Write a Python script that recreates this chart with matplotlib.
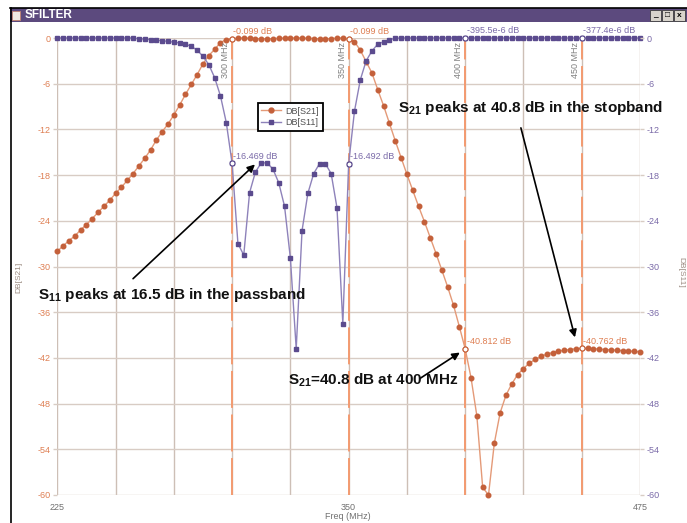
import numpy as np
import matplotlib
matplotlib.use("Agg")
import matplotlib.pyplot as plt
from matplotlib.patches import Rectangle
from matplotlib.lines import Line2D

plt.rcParams['font.family'] = ['Liberation Sans', 'DejaVu Sans']
plt.rcParams['mathtext.fontset'] = 'custom'
plt.rcParams['mathtext.rm'] = 'Liberation Sans:bold'
plt.rcParams['mathtext.bf'] = 'Liberation Sans:bold'

# frequency grid, 2.5 MHz steps
freq = np.linspace(225, 475, 101)

s21 = [-28.0, -27.3, -26.6, -26.0, -25.2, -24.5, -23.7, -22.9, -22.1, -21.3,
       -20.4, -19.6, -18.7, -17.8, -16.8, -15.8, -14.7, -13.4, -12.3, -11.3,
       -10.1, -8.8, -7.4, -6.1, -4.8, -3.4, -2.3, -1.5, -0.6, -0.2,
       -0.099, -0.01, -0.01, -0.04, -0.08, -0.10, -0.10, -0.08, -0.05, -0.03,
       -0.01, 0.0, -0.01, -0.04, -0.07, -0.10, -0.10, -0.07, -0.03, -0.0,
       -0.099, -0.5, -1.6, -3.1, -4.6, -6.8, -8.9, -11.2, -13.5, -15.7,
       -17.9, -20.0, -22.1, -24.1, -26.2, -28.3, -30.5, -32.7, -35.1, -37.9,
       -40.812, -44.6, -49.6, -59.0, -60.0, -53.2, -49.2, -46.9, -45.4, -44.2,
       -43.4, -42.7, -42.2, -41.8, -41.5, -41.3, -41.1, -41.0, -40.9, -40.8,
       -40.762, -40.76, -40.8, -40.85, -40.9, -40.95, -41.0, -41.05, -41.1, -41.15,
       -41.2]

s11 = [0.0, 0.0, 0.0, 0.0, 0.0, 0.0, 0.0, 0.0, 0.0, 0.0,
       0.0, 0.0, 0.0, 0.0, -0.1, -0.15, -0.2, -0.3, -0.35, -0.45,
       -0.55, -0.65, -0.8, -1.1, -1.6, -2.4, -3.5, -5.2, -7.6, -11.1,
       -16.469, -27.0, -28.5, -20.3, -17.6, -16.4, -16.4, -17.2, -19.0, -22.1,
       -28.9, -40.8, -25.3, -20.4, -17.8, -16.5, -16.5, -17.8, -22.3, -37.5,
       -16.492, -9.6, -5.5, -3.0, -1.7, -0.8, -0.5, -0.2, -0.05, 0.0,
       0.0, 0.0, 0.0, 0.0, 0.0, 0.0, 0.0, 0.0, 0.0, 0.0,
       0.0, 0.0, 0.0, 0.0, 0.0, 0.0, 0.0, 0.0, 0.0, 0.0,
       0.0, 0.0, 0.0, 0.0, 0.0, 0.0, 0.0, 0.0, 0.0, 0.0,
       0.0, 0.0, 0.0, 0.0, 0.0, 0.0, 0.0, 0.0, 0.0, 0.0,
       0.0]

marker_freq = [300, 350, 400, 450]
s21_marks = [-0.099, -0.099, -40.812, -40.762]
s11_marks = [-16.469, -16.492, -395.5e-6, -377.4e-6]
s21_mark_text = ["-0.099 dB", "-0.099 dB", "-40.812 dB", "-40.762 dB"]
s11_mark_text = ["-16.469 dB", "-16.492 dB", "-395.5e-6 dB", "-377.4e-6 dB"]
marker_names = ["300 MHz", "350 MHz", "400 MHz", "450 MHz"]

x_grid = np.arange(225, 476, 25)
x_labels = {225: "225", 350: "350", 475: "475"}
y_ticks = np.arange(0, -61, -6)

W, H = 687, 523
ORANGE = '#c4603a'
ORANGE_LINE = '#e49a78'
ORANGE_TXT = '#de7e52'
PURPLE = '#5b4b8e'
PURPLE_LINE = '#8e82ba'
PURPLE_TXT = '#7a6aa8'
GRID = '#d8ccc4'
VGRID = '#cdbfb6'
MARK = '#f39a70'


def px(x, y):
    return x / W, 1 - y / H


fig = plt.figure(figsize=(W / 100, H / 100), dpi=100)
fig.patch.set_facecolor('white')

# window chrome
fig.add_artist(Rectangle(px(10, 22), (W - 10) / W, 14.5 / H, transform=fig.transFigure,
                         facecolor='#5c4a7e', edgecolor='none'))
fig.add_artist(Line2D([10 / W, 1], [1 - 7.5 / H] * 2, transform=fig.transFigure,
                      color='black', lw=1.2))
fig.add_artist(Line2D([10.5 / W] * 2, [0, 1 - 7.5 / H], transform=fig.transFigure,
                      color='black', lw=1.2))
fig.add_artist(Rectangle(px(12, 20), 8 / W, 9 / H, transform=fig.transFigure,
                         facecolor='#f0e8e0', edgecolor='#c08070', lw=0.6))
fig.text(*px(25, 15), "SFILTER", color='white', fontsize=8.5, fontweight='bold',
         va='center', ha='left')
for bx, sym in zip([650, 662, 674], ["_", "\u25a1", "x"]):
    fig.add_artist(Rectangle(px(bx, 20.5), 11 / W, 10.5 / H, transform=fig.transFigure,
                             facecolor='#d8d4cc', edgecolor='#404040', lw=0.6))
    fig.text(*px(bx + 5.5, 15.5), sym, fontsize=6, ha='center', va='center',
             color='black', fontweight='bold')

ax = fig.add_axes([57.3 / W, (H - 495) / H, (640 - 57.3) / W, (495 - 38) / H])
ax.set_xlim(225, 475)
ax.set_ylim(-60, 0)
for s in ax.spines.values():
    s.set_visible(False)
ax.set_xticks(x_grid)
ax.set_xticklabels([x_labels.get(int(v), "") for v in x_grid])
ax.set_yticks(y_ticks)
ax.set_yticklabels([str(v) for v in y_ticks])
ax.tick_params(axis='x', length=0, pad=6, labelsize=6.5, labelcolor='#707070')
ax.tick_params(axis='y', length=3, width=1, color=GRID, pad=1.5, labelsize=6.5,
               labelcolor=ORANGE_TXT)
ax.xaxis.grid(True, color=VGRID, lw=1)
ax.yaxis.grid(True, color=GRID, lw=1)
ax.set_axisbelow(True)

ax2 = ax.twinx()
ax2.set_ylim(-60, 0)
for s in ax2.spines.values():
    s.set_visible(False)
ax2.set_yticks(y_ticks)
ax2.set_yticklabels([str(v) for v in y_ticks])
ax2.tick_params(axis='y', length=3, width=1, color=GRID, pad=2, labelsize=6.5,
                labelcolor=PURPLE_TXT)

# marker lines
for f in marker_freq:
    ax.axvline(f, color=MARK, lw=1.4, ls=(0, (19, 3.4)), zorder=2)

ax.plot(freq, s21, color=ORANGE_LINE, lw=1, marker='o', ms=3.3,
        mfc=ORANGE, mec=ORANGE, zorder=3, clip_on=False)
ax.plot(freq, s11, color=PURPLE_LINE, lw=1, marker='s', ms=3.2,
        mfc=PURPLE, mec=PURPLE, zorder=3, clip_on=False)

ax.plot(marker_freq, s21_marks, 'o', mfc='white', mec=ORANGE, ms=3.6, mew=0.8,
        zorder=5, clip_on=False)
ax.plot(marker_freq, s11_marks, 'o', mfc='white', mec=PURPLE, ms=3.6, mew=0.8,
        zorder=5, clip_on=False)

for f, v, t in zip(marker_freq, s21_marks, s21_mark_text):
    ax.annotate(t, (f, v), xytext=(1, 2), textcoords='offset points', ha='left',
                va='bottom', fontsize=6.5, color=ORANGE_TXT, annotation_clip=False)
for f, v, t in zip(marker_freq, s11_marks, s11_mark_text):
    ax.annotate(t, (f, v), xytext=(1, 2), textcoords='offset points', ha='left',
                va='bottom', fontsize=6.5, color=PURPLE_TXT, annotation_clip=False)
for f, t in zip(marker_freq, marker_names):
    ax.annotate(t, (f, 0), xytext=(-1.5, -3), textcoords='offset points',
                rotation=90, ha='right', va='top', fontsize=6.5, color='#808080')

leg_handles = [
    Line2D([], [], color=ORANGE_LINE, marker='o', ms=3.5, mfc=ORANGE, mec=ORANGE, lw=1),
    Line2D([], [], color=PURPLE_LINE, marker='s', ms=3.5, mfc=PURPLE, mec=PURPLE, lw=1),
]
leg = ax.legend(leg_handles, ["DB[S21]", "DB[S11]"], loc='upper left',
                bbox_to_anchor=(0.344, 0.858), borderaxespad=0, fontsize=6.5,
                fancybox=False, framealpha=1, handlelength=2.2, labelspacing=0.3,
                borderpad=0.4, handletextpad=0.5)
leg.get_frame().set_edgecolor('black')
leg.get_frame().set_linewidth(1.3)
for t in leg.get_texts():
    t.set_color('#505050')

# callouts
arrow = dict(arrowstyle='-|>', color='black', lw=1.2, mutation_scale=11,
             shrinkA=0, shrinkB=0)
ax.annotate('', xy=(309.8, -16.6), xytext=(257.5, -31.6), arrowprops=arrow,
            annotation_clip=False)
ax.text(216.7, -33.8, r"$\mathbf{S_{11}}$ peaks at 16.5 dB in the passband",
        fontsize=11, fontweight='bold', va='center', ha='left', color='#111111')

ax.annotate('', xy=(447.1, -39.3), xytext=(423.9, -11.8), arrowprops=arrow,
            annotation_clip=False)
ax.text(371.3, -9.2, r"$\mathbf{S_{21}}$ peaks at 40.8 dB in the stopband",
        fontsize=11, fontweight='bold', va='center', ha='left', color='#111111')

ax.annotate('', xy=(397.7, -41.3), xytext=(380.6, -44.7), arrowprops=arrow,
            annotation_clip=False)
ax.text(324.0, -45.0, r"$\mathbf{S_{21}}$=40.8 dB at 400 MHz",
        fontsize=11, fontweight='bold', va='center', ha='left', color='#111111')

fig.text(*px(19, 277), "DB[S21]", rotation=90, fontsize=6, color='#9a8a80',
         ha='center', va='center')
fig.text(*px(681, 272), "DB[S11]", rotation=270, fontsize=6, color='#9a8a80',
         ha='center', va='center')
fig.text(*px(348, 516.5), "Freq (MHz)", fontsize=6.5, color='#707070',
         ha='center', va='center')

fig.savefig("out.png", dpi=100)
